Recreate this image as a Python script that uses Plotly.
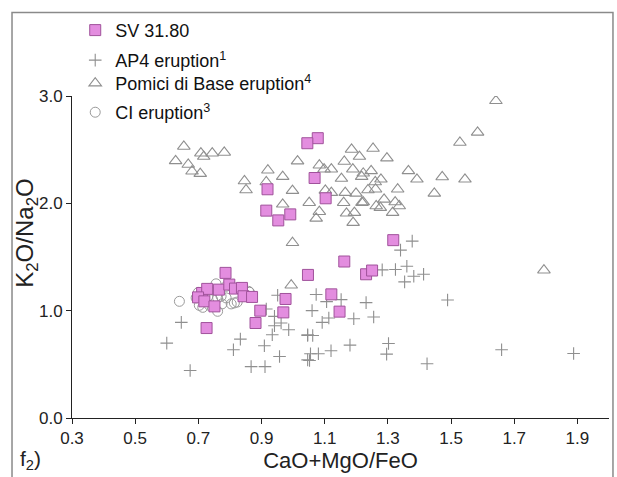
import plotly.graph_objects as go

# SV 31.80 glass analyses
sv_x = [1.078, 1.045, 1.068, 0.919, 1.103, 0.915, 0.953, 0.991, 1.317, 1.162,
        1.047, 1.231, 1.250, 1.121, 1.147, 0.976, 0.969,
        0.786, 0.712, 0.728, 0.699, 0.719, 0.765, 0.751, 0.798, 0.816, 0.838,
        0.843, 0.870, 0.896, 0.881, 0.726]
sv_y = [2.607, 2.560, 2.236, 2.131, 2.047, 1.932, 1.841, 1.897, 1.657, 1.458,
        1.333, 1.339, 1.374, 1.152, 0.991, 1.109, 0.984,
        1.352, 1.165, 1.203, 1.124, 1.087, 1.196, 1.040, 1.243, 1.206, 1.212,
        1.134, 1.128, 1.000, 0.885, 0.838]

# AP4 eruption
ap4_x = [0.646, 0.600, 0.674, 0.951, 0.915, 0.941, 0.962, 0.941, 0.986, 0.934,
         0.833, 0.811, 0.909, 0.957, 0.867, 0.911, 1.046, 1.046,
         1.377, 1.340, 1.282, 1.324, 1.360, 1.382, 1.413, 1.353, 1.489,
         1.073, 1.106, 1.152, 1.231, 1.060, 1.113, 1.092, 1.192, 1.255,
         1.046, 1.062, 1.180, 1.302, 1.055, 1.080, 1.120, 1.052, 1.296, 1.424,
         1.660, 1.888]
ap4_y = [0.891, 0.698, 0.442, 1.143, 1.016, 0.947, 0.885, 0.860, 0.822, 0.776,
         0.735, 0.636, 0.673, 0.573, 0.479, 0.479, 0.776, 0.542,
         1.648, 1.564, 1.380, 1.383, 1.414, 1.321, 1.339, 1.268, 1.100,
         1.150, 1.084, 1.103, 1.075, 1.000, 0.931, 0.891, 0.925, 0.941,
         0.769, 0.769, 0.679, 0.694, 0.598, 0.598, 0.626, 0.536, 0.595, 0.505,
         0.636, 0.601]

# Pomici di Base eruption
pb_x = [0.654, 0.628, 0.668, 0.680, 0.706, 0.708, 0.717, 0.744, 0.782, 0.846,
        0.851, 0.920, 0.915, 0.967, 0.998, 0.967, 1.014, 1.051, 1.083, 1.098,
        1.121, 1.083, 1.073, 1.102, 1.121, 1.162, 1.153, 1.185, 1.210, 1.189,
        1.165, 1.160, 1.169, 1.199, 1.194, 1.190, 1.218, 1.222, 1.222, 1.217,
        1.247, 1.253, 1.237, 1.261, 1.260, 1.278, 1.263, 1.276, 1.288, 1.297,
        1.315, 1.323, 1.331, 1.336, 1.365, 1.392, 1.447, 1.472, 1.544, 1.528,
        1.584, 0.998, 1.642, 1.794, 0.994]
pb_y = [2.530, 2.396, 2.362, 2.299, 2.277, 2.467, 2.436, 2.467, 2.474, 2.208,
        2.124, 2.308, 2.199, 2.249, 2.118, 1.991, 2.393, 2.006, 2.355, 2.318,
        2.318, 1.922, 1.860, 2.121, 2.100, 2.390, 2.231, 2.502, 2.436, 2.318,
        2.100, 2.006, 1.907, 2.093, 1.913, 1.820, 2.006, 2.012, 2.280, 2.249,
        2.302, 2.511, 2.124, 2.131, 2.199, 2.224, 1.975, 1.960, 2.037, 2.421,
        1.913, 2.012, 2.131, 1.975, 2.302, 2.224, 2.093, 2.246, 2.224, 2.567,
        2.661, 1.633, 2.956, 1.377, 1.237]

# CI eruption
ci_x = [0.640, 0.693, 0.703, 0.730, 0.756, 0.761, 0.772, 0.788, 0.775, 0.761,
        0.735, 0.714, 0.804, 0.814, 0.859, 0.788, 0.745, 0.862, 0.700, 0.823]
ci_y = [1.087, 1.119, 1.050, 1.134, 1.250, 1.119, 1.134, 1.119, 1.063, 0.994,
        1.050, 1.031, 1.063, 1.072, 1.180, 1.227, 1.103, 1.171, 1.170, 1.080]

x_ticks = [0.3, 0.5, 0.7, 0.9, 1.1, 1.3, 1.5, 1.7, 1.9]
y_ticks = [0.0, 1.0, 2.0, 3.0]

FONT = "Liberation Sans, Arial, sans-serif"
GREY = "#8f8f8f"

fig = go.Figure()

fig.add_trace(go.Scatter(
    x=ap4_x, y=ap4_y, mode="markers", name="AP4 eruption<sup>1</sup>",
    marker=dict(symbol="cross-thin-open", size=9, color=GREY,
                line=dict(color=GREY, width=1.1)),
    legend="legend2"))
fig.add_trace(go.Scatter(
    x=pb_x, y=pb_y, mode="markers", name="Pomici di Base eruption<sup>4</sup>",
    marker=dict(symbol="triangle-up-open", size=11, color=GREY, line=dict(width=1.1)),
    legend="legend3"))
fig.add_trace(go.Scatter(
    x=ci_x, y=ci_y, mode="markers", name="CI eruption<sup>3</sup>",
    marker=dict(symbol="circle-open", size=10, color="#9a9a9a", line=dict(width=1)),
    legend="legend4"))
fig.add_trace(go.Scatter(
    x=sv_x, y=sv_y, mode="markers", name="SV 31.80", showlegend=True,
    marker=dict(symbol="square", size=11, color="#e38ddf",
                line=dict(color="#a0529b", width=1)),
    legend="legend"))


def leg(ypos):
    return dict(x=0.006, y=ypos, xanchor="left", yanchor="middle",
                bgcolor="rgba(0,0,0,0)", font=dict(family=FONT, size=18, color="#111"),
                itemsizing="trace")


fig.update_layout(
    width=617, height=477,
    showlegend=True,
    margin=dict(l=72, r=8, t=96, b=59),
    paper_bgcolor="white", plot_bgcolor="white",
    font=dict(family=FONT, size=17, color="#222"),
    legend=leg(1.2037), legend2=leg(1.1104), legend3=leg(1.0389), legend4=leg(0.9487),
    xaxis=dict(range=[0.3, 2.0], tickvals=x_ticks, ticktext=[f"{v:.1f}" for v in x_ticks],
               showline=True, linecolor="#222", linewidth=1, ticks="outside",
               ticklen=5, tickcolor="#222", showgrid=False, zeroline=False,
               tickfont=dict(size=17),
               title=dict(text="CaO+MgO/FeO", font=dict(size=22), standoff=4)),
    yaxis=dict(range=[0, 3.0], tickvals=y_ticks, ticktext=[f"{v:.1f}" for v in y_ticks],
               showline=True, linecolor="#222", linewidth=1, ticks="outside",
               ticklen=5, tickcolor="#222", showgrid=False, zeroline=False,
               tickfont=dict(size=17)),
)

# y-axis title, placed as a rotated label
fig.add_annotation(text="K<sub>2</sub>O/Na<sub>2</sub>O", xref="paper", yref="paper",
                   x=-0.084, y=0.575, xanchor="center", yanchor="middle",
                   textangle=-90, showarrow=False,
                   font=dict(family=FONT, size=24, color="#222"))

# outer frame of the panel
fig.add_shape(type="rect", xref="paper", yref="paper",
              x0=-0.1117, x1=1.0074, y0=-0.2, y1=1.2597,
              line=dict(color="#8a8a8a", width=1.5))

# panel label
fig.add_annotation(text="f<sub>2</sub>)", xref="paper", yref="paper",
                   x=-0.1, y=-0.13, xanchor="left", yanchor="middle",
                   showarrow=False, font=dict(family=FONT, size=21, color="#222"))

fig.write_html("out.html")
